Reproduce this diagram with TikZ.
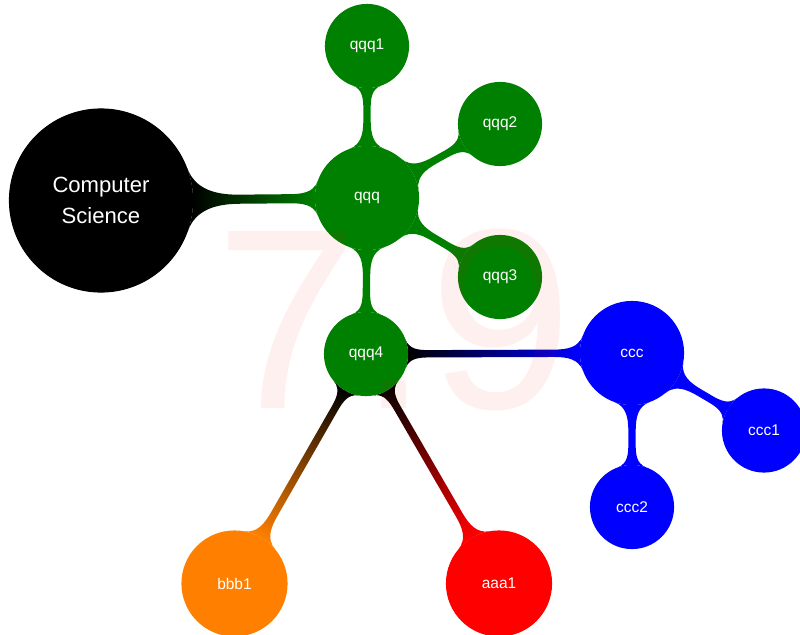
\documentclass[tikz,border=0pt]{standalone}
\usepackage{fontspec}
\setmainfont{Liberation Sans}
\usetikzlibrary{mindmap,backgrounds}
\definecolor{mmGreen}{HTML}{008000}
\definecolor{mmOrange}{HTML}{FF8000}
\tikzset{
  mm concept/.style={circle, text=white, inner sep=0pt, align=center, line width=0.8pt},
  mm color/.style={fill=#1, draw=#1},
  mm root/.style={mm concept, mm color=black, minimum size=4.575cm, font=\fontsize{15.7}{21.8}\selectfont},
  mm big/.style={mm concept, minimum size=2.575cm, font=\fontsize{11}{13}\selectfont},
  mm small/.style={mm concept, minimum size=2.075cm, font=\fontsize{11}{13}\selectfont},
  mm leaf/.style={mm concept, minimum size=2.625cm, font=\fontsize{11}{13}\selectfont},
  mm bar/.style={line width=5.7pt},
  mm mark/.style={anchor=base west, inner sep=0pt, text=red, text opacity=0.06, font=\fontsize{183}{183}\selectfont},
}
\begin{document}
\begin{tikzpicture}[x=0.025cm, y=0.025cm]
  \useasboundingbox (0,0) rectangle (800,634);
  % concepts
  \node[mm root] (cs) at (101,433.5) {Computer\\Science};
  \node[mm big, mm color=mmGreen] (qqq) at (367,436) {qqq};
  \node[mm small, mm color=mmGreen] (qqq1) at (367,588) {qqq1};
  \node[mm small, mm color=mmGreen] (qqq2) at (500,510) {qqq2};
  \node[mm small, mm color=mmGreen] (qqq3) at (500,357) {qqq3};
  \node[mm small, mm color=mmGreen] (qqq4) at (366,280) {qqq4};
  \node[mm big, mm color=blue] (ccc) at (632,281) {ccc};
  \node[mm small, mm color=blue] (ccc1) at (764,203.5) {ccc1};
  \node[mm small, mm color=blue] (ccc2) at (632,127) {ccc2};
  \node[mm leaf, mm color=mmOrange] (bbb1) at (234.5,50.5) {bbb1};
  \node[mm leaf, mm color=red] (aaa1) at (499,50.5) {aaa1};
  % bars behind the circles
  \begin{scope}[on background layer, mm bar]
    \path (cs) to[circle connection bar switch color=from (black) to (mmGreen)] (qqq);
    \foreach \k in {qqq1,qqq2,qqq3,qqq4}
      \path (qqq) to[circle connection bar switch color=from (mmGreen) to (mmGreen)] (\k);
    \path (qqq4) to[circle connection bar switch color=from (black) to (blue)] (ccc);
    \path (qqq4) to[circle connection bar switch color=from (black) to (mmOrange)] (bbb1);
    \path (qqq4) to[circle connection bar switch color=from (black) to (red)] (aaa1);
    \foreach \k in {ccc1,ccc2}
      \path (ccc) to[circle connection bar switch color=from (blue) to (blue)] (\k);
  \end{scope}
  % faint mark on top
  \node[mm mark] (mark) at (215,226) {7.9};
\end{tikzpicture}
\end{document}
